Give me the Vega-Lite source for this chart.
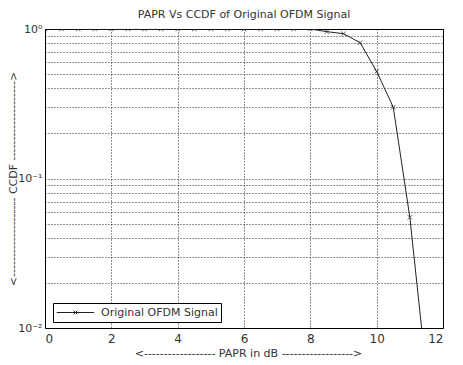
{
  "$schema": "https://vega.github.io/schema/vega-lite/v6.json",
  "width": 398,
  "height": 299,
  "autosize": {"type": "none"},
  "padding": {"left": 45, "top": 29, "right": 20, "bottom": 37},
  "background": "white",
  "config": {
    "font": "DejaVu Sans",
    "view": {"stroke": "black", "strokeWidth": 1},
    "axis": {
      "grid": true, "gridColor": "black", "gridDash": [1, 2], "gridOpacity": 0.85, "gridWidth": 1,
      "domain": false, "ticks": false,
      "labelFont": "DejaVu Sans", "labelFontSize": 12, "labelColor": "#333",
      "titleFont": "DejaVu Sans", "titleFontSize": 11, "titleColor": "#333", "titleFontWeight": "normal"
    }
  },
  "title": {"text": "PAPR Vs CCDF of Original OFDM Signal", "fontSize": 11, "fontWeight": "normal", "color": "#333", "font": "DejaVu Sans", "offset": 3, "anchor": "middle"},
  "data": {"values": [
    {"papr": 0, "ccdf": 1, "s": "Original OFDM Signal"},
    {"papr": 0.5, "ccdf": 1, "s": "Original OFDM Signal"},
    {"papr": 1, "ccdf": 1, "s": "Original OFDM Signal"},
    {"papr": 1.5, "ccdf": 1, "s": "Original OFDM Signal"},
    {"papr": 2, "ccdf": 1, "s": "Original OFDM Signal"},
    {"papr": 2.5, "ccdf": 1, "s": "Original OFDM Signal"},
    {"papr": 3, "ccdf": 1, "s": "Original OFDM Signal"},
    {"papr": 3.5, "ccdf": 1, "s": "Original OFDM Signal"},
    {"papr": 4, "ccdf": 1, "s": "Original OFDM Signal"},
    {"papr": 4.5, "ccdf": 1, "s": "Original OFDM Signal"},
    {"papr": 5, "ccdf": 1, "s": "Original OFDM Signal"},
    {"papr": 5.5, "ccdf": 1, "s": "Original OFDM Signal"},
    {"papr": 6, "ccdf": 1, "s": "Original OFDM Signal"},
    {"papr": 6.5, "ccdf": 1, "s": "Original OFDM Signal"},
    {"papr": 7, "ccdf": 1, "s": "Original OFDM Signal"},
    {"papr": 7.5, "ccdf": 1, "s": "Original OFDM Signal"},
    {"papr": 8, "ccdf": 1, "s": "Original OFDM Signal"},
    {"papr": 8.5, "ccdf": 0.96, "s": "Original OFDM Signal"},
    {"papr": 9, "ccdf": 0.93, "s": "Original OFDM Signal"},
    {"papr": 9.5, "ccdf": 0.81, "s": "Original OFDM Signal"},
    {"papr": 10, "ccdf": 0.52, "s": "Original OFDM Signal"},
    {"papr": 10.5, "ccdf": 0.3, "s": "Original OFDM Signal"},
    {"papr": 11, "ccdf": 0.055, "s": "Original OFDM Signal"},
    {"papr": 11.5, "ccdf": 0.005, "s": "Original OFDM Signal"}
  ]},
  "layer": [
    {
      "mark": {"type": "line", "clip": true, "strokeWidth": 1},
      "encoding": {
        "x": {"field": "papr", "type": "quantitative", "scale": {"domain": [0, 12], "nice": false},
              "axis": {"values": [0, 2, 4, 6, 8, 10, 12], "title": "<------------------ PAPR in dB ------------------>", "titlePadding": 3, "labelPadding": 5, "titleX": 203}},
        "y": {"field": "ccdf", "type": "quantitative", "scale": {"type": "log", "domain": [0.01, 1], "nice": false},
              "axis": {"values": [0.01, 0.02, 0.03, 0.04, 0.05, 0.06, 0.07, 0.08, 0.09, 0.1, 0.2, 0.3, 0.4, 0.5, 0.6, 0.7, 0.8, 0.9, 1],
                       "labelExpr": "datum.value == 1 ? '10⁰' : (abs(datum.value - 0.1) < 1e-9 ? '10⁻¹' : (abs(datum.value - 0.01) < 1e-9 ? '10⁻²' : ''))",
                       "labelFontSize": 11, "labelPadding": 3,
                       "title": "<-------------------- CCDF -------------------->", "titlePadding": -1}},
        "color": {"field": "s", "type": "nominal", "scale": {"range": ["#222"]},
                  "legend": {"title": null, "orient": "none", "legendX": 8, "legendY": 274,
                             "symbolType": "M-1,0L1,0M-0.1,-0.1L0.1,0.1M-0.1,0.1L0.1,-0.1", "symbolSize": 1400,
                             "clipHeight": 13,
                             "symbolStrokeWidth": 1, "symbolStrokeColor": "#222", "symbolFillColor": "transparent",
                             "labelFontSize": 11, "labelColor": "#333", "labelFont": "DejaVu Sans",
                             "strokeColor": "black", "fillColor": "white", "padding": 3, "labelOffset": 6}}
      }
    },
    {
      "mark": {"type": "point", "shape": "M-1,-1L1,1M-1,1L1,-1", "size": 20, "clip": true, "strokeWidth": 1, "filled": false, "color": "#222"},
      "encoding": {
        "x": {"field": "papr", "type": "quantitative"},
        "y": {"field": "ccdf", "type": "quantitative"}
      }
    }
  ]
}
